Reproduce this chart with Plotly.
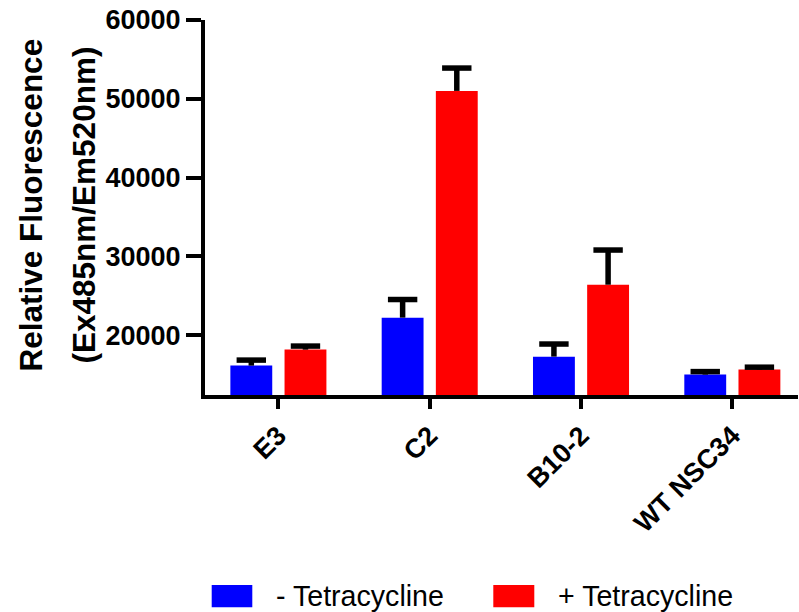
import plotly.graph_objects as go

categories = ["E3", "C2", "B10-2", "WT NSC34"]
series_names = ["- Tetracycline", "+ Tetracycline"]
minus_tet = [16130, 22220, 17270, 14990]
minus_tet_err = [700, 2300, 1600, 380]
plus_tet = [18160, 51000, 26400, 15630]
plus_tet_err = [450, 2900, 4400, 300]
y_ticks = [20000, 30000, 40000, 50000, 60000]
colors = ["#0000FF", "#FF0000"]

BOLD = "Liberation Sans"
REG = "Liberation Sans"

W, H = 799, 612
L, R, T, B = 205, 1, 20, 217
PW, PH = W - L - R, H - T - B

fig = go.Figure()
groups = [(series_names[0], minus_tet, minus_tet_err, colors[0], "g1"),
          (series_names[1], plus_tet, plus_tet_err, colors[1], "g2")]
for name, vals, errs, col, og in groups:
    fig.add_trace(go.Bar(
        x=categories, y=vals, name=name, offsetgroup=og,
        marker=dict(color=col, line=dict(width=0)),
        error_y=dict(type="data", array=errs, arrayminus=[0] * len(errs), symmetric=False,
                     color="black", thickness=5.5, width=0),
        showlegend=False, hoverinfo="skip",
    ))
# error-bar caps (T shape, no lower cap)
for name, vals, errs, col, og in groups:
    fig.add_trace(go.Scatter(
        x=categories, y=[v + e for v, e in zip(vals, errs)], mode="markers", offsetgroup=og,
        marker=dict(symbol="line-ew", size=21, color="black", line=dict(width=5.5, color="black")),
        showlegend=False, hoverinfo="skip",
    ))

fig.update_layout(
    width=W, height=H,
    margin=dict(l=L, r=R, t=T, b=B),
    paper_bgcolor="white", plot_bgcolor="white",
    barmode="group", bargap=0.284, bargroupgap=0.227,
    scattermode="group", scattergap=0.284,
    font=dict(family=BOLD, color="black"),
    xaxis=dict(
        range=[-0.485, 3.434], showline=True, linecolor="black", linewidth=4,
        ticks="outside", ticklen=10, tickwidth=4, tickcolor="black",
        tickangle=-45, tickfont=dict(size=27, family=BOLD, weight="bold"),
        showgrid=False, zeroline=False,
    ),
    yaxis=dict(
        range=[12400, 60000], tickvals=y_ticks, tickformat="d",
        showline=True, linecolor="black", linewidth=4,
        ticks="outside", ticklen=15, tickwidth=4, tickcolor="black",
        tickfont=dict(size=27, family=BOLD, weight="bold"),
        showgrid=False, zeroline=False,
    ),
)

# Y-axis title as two rotated lines
title_lines = ["Relative Fluorescence", "(Ex485nm/Em520nm)"]
for line, cx in zip(title_lines, [30, 83]):
    fig.add_annotation(x=0, y=0.5, xref="paper", yref="paper", xshift=cx - L, yshift=2,
                       text=line, textangle=-90, showarrow=False, xanchor="center", yanchor="middle",
                       font=dict(size=31.5, family=BOLD, weight="bold", color="black"))

# Legend drawn manually with large squares
legend_items = [(series_names[0], colors[0], 211.7, 252.3, 275),
                (series_names[1], colors[1], 493.3, 534.3, 556.5)]
for name, col, sx0, sx1, tx in legend_items:
    fig.add_shape(type="rect", xref="paper", yref="paper",
                  x0=(sx0 - L) / PW, x1=(sx1 - L) / PW,
                  y0=(H - B - 607.3) / PH, y1=(H - B - 585) / PH,
                  fillcolor=col, line=dict(width=0))
    fig.add_annotation(x=(tx - L) / PW, y=(H - B - 596) / PH, xref="paper", yref="paper",
                       text=name, showarrow=False, xanchor="left", yanchor="middle", borderpad=0,
                       font=dict(size=28.6, family=REG, color="black"))

fig.write_html("out.html", post_script="document.body.style.margin='0';",
               config={"displayModeBar": False})
